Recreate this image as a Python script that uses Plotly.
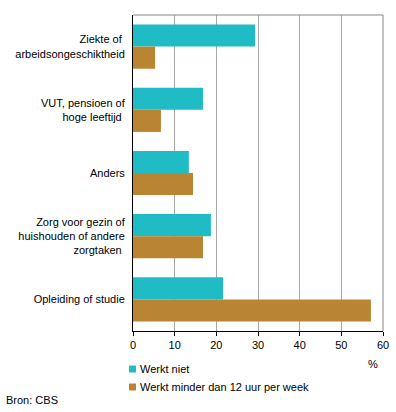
import plotly.graph_objects as go

categories = [
    "Ziekte of\u00a0<br>arbeidsongeschiktheid",
    "VUT, pensioen of<br>hoge leeftijd\u00a0",
    "Anders",
    "Zorg voor gezin of<br>huishouden of andere<br>zorgtaken\u00a0",
    "Opleiding of studie",
]
series_names = ["Werkt niet", "Werkt minder dan 12 uur per week"]
werkt_niet = [29.3, 16.8, 13.4, 18.7, 21.6]
werkt_minder = [5.3, 6.7, 14.4, 16.8, 57.1]
colors = ["#1fbcc6", "#b98532"]
x_ticks = [0, 10, 20, 30, 40, 50, 60]

W, H = 396, 412
L, R, T, B = 133, 13, 15, 81
PW, PH = W - L - R, H - T - B


def px(x):
    return (x - L) / PW


def py(y):
    return (H - B - y) / PH


FONT = dict(family="Liberation Sans, Arial, sans-serif", size=11, color="#000000")

fig = go.Figure()
for name, vals, c in zip(series_names, [werkt_niet, werkt_minder], colors):
    fig.add_trace(go.Bar(
        y=categories, x=vals, name=name, orientation="h",
        marker=dict(color=c, line=dict(width=0)), showlegend=False,
    ))

fig.update_layout(
    width=W, height=H,
    margin=dict(l=L, r=R, t=T, b=B, pad=0, autoexpand=False),
    paper_bgcolor="white", plot_bgcolor="white",
    barmode="group", bargap=0.30, bargroupgap=0,
    font=FONT,
    xaxis=dict(
        range=[0, 60], tickvals=x_ticks, ticktext=[str(v) for v in x_ticks],
        showgrid=True, gridcolor="#a8a8a8", gridwidth=1,
        showline=True, linecolor="#000000", linewidth=1,
        ticks="outside", ticklen=4, tickcolor="#000000",
        zeroline=False, fixedrange=True, automargin=False,
    ),
    yaxis=dict(
        autorange="reversed", showline=True, linecolor="#000000", linewidth=1,
        showgrid=False, ticks="", ticklabelstandoff=5, fixedrange=True,
        automargin=False,
    ),
)

# gray frame top and right
fig.add_shape(type="line", xref="paper", yref="paper", x0=0, x1=1, y0=1, y1=1,
              line=dict(color="#888888", width=1))
fig.add_shape(type="line", xref="paper", yref="paper", x0=1, x1=1, y0=0, y1=1,
              line=dict(color="#888888", width=1))

# unit label
fig.add_annotation(text="%", xref="paper", yref="paper", x=px(373), y=py(364),
                   showarrow=False, xanchor="center", yanchor="middle", font=FONT)

# legend
for i, (name, c) in enumerate(zip(series_names, colors)):
    cy = 369 + i * 18
    fig.add_shape(type="rect", xref="paper", yref="paper",
                  x0=px(129), x1=px(136), y0=py(cy - 3.5), y1=py(cy + 3.5),
                  fillcolor=c, line=dict(width=0))
    fig.add_annotation(text=name, xref="paper", yref="paper", x=px(138), y=py(cy),
                       showarrow=False, xanchor="left", yanchor="middle", font=FONT)

fig.add_annotation(text="Bron: CBS", xref="paper", yref="paper", x=px(4), y=py(400),
                   showarrow=False, xanchor="left", yanchor="middle", font=FONT)

fig.write_html(
    "out.html",
    config=dict(displayModeBar=False),
    post_script="document.body.style.margin='0';document.body.style.overflow='hidden';",
)
